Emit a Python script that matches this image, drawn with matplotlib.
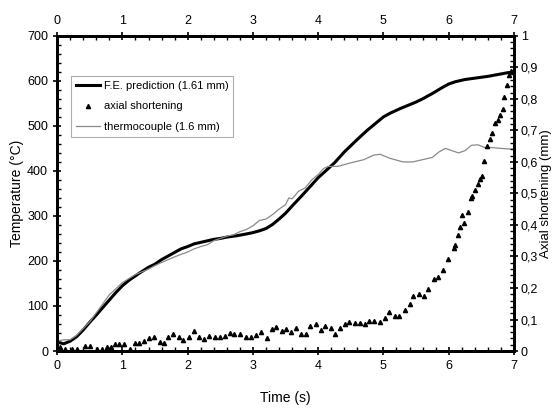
import numpy as np
import matplotlib
matplotlib.use("Agg")
import matplotlib.pyplot as plt
from matplotlib.ticker import MultipleLocator, FuncFormatter

plt.rcParams["font.family"] = ["Liberation Sans", "DejaVu Sans"]

# F.E. prediction (temperature, degC)
fe_t = [0, 0.1, 0.2, 0.3, 0.4, 0.5, 0.6, 0.75, 0.9, 1.0, 1.1, 1.25, 1.4, 1.5, 1.6, 1.75,
        1.9, 2.0, 2.1, 2.25, 2.4, 2.5, 2.6, 2.75, 2.9, 3.0, 3.1, 3.2, 3.3, 3.4, 3.5, 3.6,
        3.75, 3.9, 4.0, 4.1, 4.25, 4.4, 4.5, 4.6, 4.75, 4.9, 5.0, 5.1, 5.25, 5.4, 5.5, 5.6,
        5.75, 5.9, 6.0, 6.1, 6.25, 6.4, 6.5, 6.6, 6.75, 6.9, 7.0]
fe_temp = [20, 16, 22, 32, 47, 64, 80, 105, 130, 145, 157, 172, 186, 193, 203, 215,
           227, 232, 238, 243, 248, 250, 253, 256, 260, 263, 267, 272, 281, 293, 306, 322,
           345, 369, 385, 398, 418, 442, 456, 470, 490, 508, 520, 528, 538, 547, 553, 560,
           572, 585, 593, 598, 603, 606, 608, 610, 614, 618, 620]

# thermocouple (1.6 mm)
tc_t = [0, 0.1, 0.2, 0.3, 0.5, 0.7, 0.8, 1.0, 1.2, 1.4, 1.5, 1.7, 1.85, 2.0, 2.1, 2.2, 2.3,
        2.4, 2.5, 2.6, 2.7, 2.8, 2.9, 3.0, 3.1, 3.2, 3.3, 3.4, 3.5, 3.55, 3.6, 3.7, 3.8, 3.9,
        4.0, 4.08, 4.15, 4.3, 4.5, 4.7, 4.85, 4.95, 5.1, 5.3, 5.45, 5.6, 5.75, 5.85, 5.95,
        6.05, 6.15, 6.25, 6.35, 6.45, 6.55, 6.65, 6.8, 7.0]
tc_temp = [22, 25, 25, 35, 65, 105, 125, 152, 170, 182, 190, 203, 212, 220, 227, 232, 236,
           245, 250, 255, 258, 265, 270, 278, 290, 293, 303, 315, 325, 340, 338, 355, 362, 380,
           392, 405, 410, 410, 418, 425, 435, 437, 428, 420, 420, 425, 430, 442, 450,
           445, 440, 445, 457, 458, 452, 452, 450, 448]

# axial shortening (mm)
ax_t = [0.05, 0.12, 0.22, 0.31, 0.43, 0.51, 0.61, 0.68, 0.76, 0.82, 0.89, 0.95, 1.03, 1.11,
        1.19, 1.26, 1.33, 1.40, 1.49, 1.57, 1.63, 1.70, 1.78, 1.87, 1.93, 2.02, 2.10, 2.18,
        2.25, 2.33, 2.42, 2.50, 2.57, 2.65, 2.71, 2.80, 2.89, 2.97, 3.05, 3.13, 3.21, 3.29,
        3.36, 3.44, 3.51, 3.59, 3.66, 3.73, 3.82, 3.88, 3.96, 4.04, 4.11, 4.19, 4.26, 4.33,
        4.41, 4.48, 4.56, 4.64, 4.71, 4.78, 4.85, 4.94, 5.02, 5.09, 5.17, 5.24, 5.33, 5.40,
        5.46, 5.54, 5.62, 5.69, 5.77, 5.84, 5.92, 5.99, 6.08, 6.10, 6.15, 6.17, 6.21, 6.24,
        6.29, 6.34, 6.36, 6.41, 6.45, 6.48, 6.51, 6.54, 6.59, 6.63, 6.66, 6.71, 6.75, 6.78,
        6.83, 6.85, 6.90, 6.92, 6.95]
ax_short = [0.014, 0.006, 0.006, 0.006, 0.017, 0.017, 0.006, 0.006, 0.014, 0.014, 0.022, 0.022,
            0.022, 0.008, 0.024, 0.024, 0.033, 0.040, 0.046, 0.030, 0.026, 0.043, 0.054, 0.043,
            0.035, 0.046, 0.065, 0.043, 0.037, 0.048, 0.043, 0.043, 0.049, 0.058, 0.054, 0.054,
            0.046, 0.043, 0.051, 0.059, 0.042, 0.070, 0.076, 0.063, 0.069, 0.059, 0.074, 0.054,
            0.053, 0.080, 0.086, 0.067, 0.079, 0.074, 0.054, 0.074, 0.086, 0.093, 0.088, 0.088,
            0.086, 0.096, 0.096, 0.093, 0.106, 0.123, 0.111, 0.112, 0.130, 0.149, 0.175, 0.181,
            0.175, 0.197, 0.228, 0.234, 0.257, 0.291, 0.326, 0.337, 0.368, 0.395, 0.432, 0.407,
            0.442, 0.485, 0.493, 0.511, 0.530, 0.545, 0.556, 0.603, 0.649, 0.672, 0.691, 0.723,
            0.733, 0.749, 0.768, 0.807, 0.844, 0.876, 0.887]
assert len(ax_t) == len(ax_short)
assert len(fe_t) == len(fe_temp) and len(tc_t) == len(tc_temp)

fig = plt.figure(figsize=(5.55, 4.12), dpi=100)
ax = fig.add_axes([0.103, 0.148, 0.823, 0.765])

h_fe, = ax.plot(fe_t, fe_temp, color="black", lw=2.2, label="F.E. prediction (1.61 mm)",
                solid_joinstyle="round")
h_tc, = ax.plot(tc_t, tc_temp, color="#8a8a8a", lw=0.9, label="thermocouple (1.6 mm)")
ax.set_xlim(0, 7)
ax.set_ylim(0, 700)
ax.xaxis.set_major_locator(MultipleLocator(1))
ax.xaxis.set_minor_locator(MultipleLocator(0.2))
ax.yaxis.set_major_locator(MultipleLocator(100))
ax.yaxis.set_minor_locator(MultipleLocator(20))
ax.set_xlabel("Time (s)", fontsize=10, labelpad=14)
ax.set_ylabel("Temperature (°C)", fontsize=10, labelpad=2)

ax2 = ax.twinx()
h_ax, = ax2.plot(ax_t, ax_short, "^", color="black", ms=3, label="axial shortening")
ax2.set_ylim(0, 1)
ax2.yaxis.set_major_locator(MultipleLocator(0.1))
ax2.yaxis.set_minor_locator(MultipleLocator(0.02))
ax2.yaxis.set_major_formatter(FuncFormatter(lambda v, p: ("%g" % round(v, 1)).replace(".", ",")))
ax2.set_ylabel("Axial shortening (mm)", fontsize=9.5, labelpad=1)

top = ax.secondary_xaxis("top")
top.xaxis.set_major_locator(MultipleLocator(1))
top.xaxis.set_minor_locator(MultipleLocator(0.2))

for a in (ax, ax2):
    for s in a.spines.values():
        s.set_linewidth(2)
for a in (ax, ax2, top):
    a.tick_params(which="major", direction="inout", length=6, width=1.2, labelsize=9)
    a.tick_params(which="minor", direction="in", length=3, width=1)
ax2.tick_params(which="major", pad=2)
top.spines["top"].set_linewidth(2)

leg = ax2.legend(handles=[h_fe, h_ax, h_tc], loc="upper left", bbox_to_anchor=(0.03, 0.873),
                 fontsize=8, frameon=True, fancybox=False, edgecolor="#999999",
                 handlelength=2.2, handletextpad=0.3, borderpad=0.45, labelspacing=0.95,
                 borderaxespad=0)
leg.get_frame().set_linewidth(0.8)

fig.savefig("out.png", dpi=100)
